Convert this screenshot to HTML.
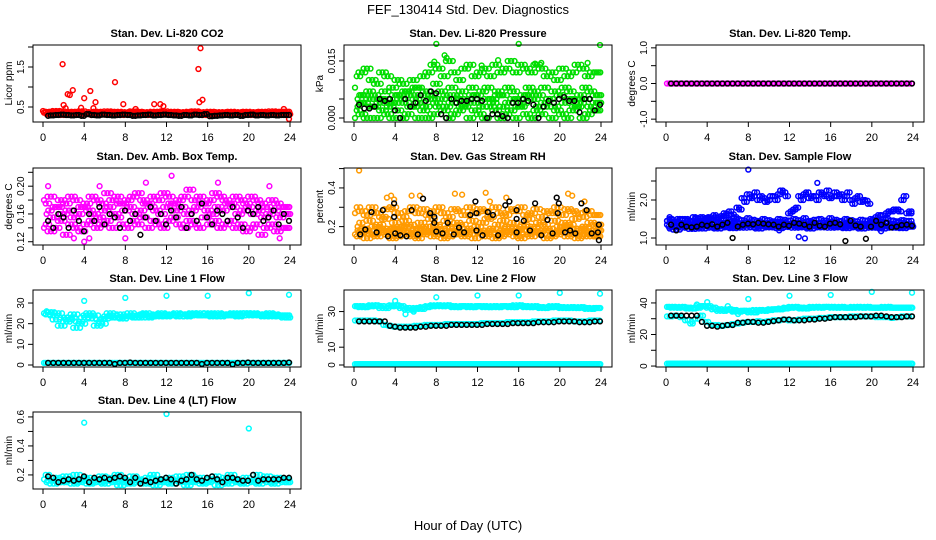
<!DOCTYPE html>
<html><head><meta charset="utf-8"><style>
html,body{margin:0;padding:0;background:#fff}
svg{display:block;font-family:"Liberation Sans",Arial,sans-serif}
</style></head><body>
<svg id="fig" width="936" height="540" viewBox="0 0 936 540" xmlns="http://www.w3.org/2000/svg">
<rect width="936" height="540" fill="#fff"/>
<text x="468" y="14" font-size="13" text-anchor="middle">FEF_130414  Std. Dev. Diagnostics</text>
<text x="468" y="530" font-size="13" text-anchor="middle">Hour of Day (UTC)</text>
</svg>
<script>
const xTicks=[0,4,8,12,16,20,24];
// CO2
const co2RedA=[0.36,0.38,0.37,0.4,0.39,0.36,0.38,0.37,0.39,0.35,0.37,0.38,0.36,0.39,0.37,0.38,0.36,0.37,0.39,0.38,0.37,0.36,0.38,0.37,0.39,0.36,0.38,0.37,0.36,0.38,0.39,0.37,0.36,0.38,0.37,0.35,0.37,0.38,0.36,0.37,0.38,0.36,0.37,0.38,0.36,0.39,0.37,0.38];
const co2RedB=[0.32,0.33,0.31,0.34,0.3,0.33,0.32,0.31,0.34,0.32,0.3,0.33,0.31,0.32,0.34,0.3,0.33,0.31,0.32,0.33,0.31,0.3,0.32,0.34,0.31,0.33,0.3,0.32,0.31,0.33,0.32,0.3,0.34,0.31,0.32,0.33,0.3,0.32,0.31,0.33,0.32,0.3,0.31,0.33,0.32,0.31,0.33,0.32];
const co2OutX=[1.9,2.4,2.6,2.9,2.0,4.0,4.6,5.1,7.0,7.8,10.8,11.4,11.7,15.1,15.3,15.2,15.5,3.7,4.9,2.2,9.0,23.4,0.0,23.9];
const co2OutY=[1.57,0.82,0.8,0.92,0.55,0.72,0.9,0.62,1.12,0.57,0.57,0.57,0.52,1.45,1.97,0.62,0.68,0.48,0.47,0.47,0.45,0.45,0.4,0.2];
const co2Black=[0.28,0.29,0.3,0.31,0.3,0.29,0.3,0.28,0.32,0.3,0.29,0.31,0.3,0.29,0.3,0.31,0.3,0.28,0.29,0.3,0.31,0.29,0.3,0.31,0.3,0.29,0.28,0.3,0.29,0.31,0.3,0.32,0.27,0.28,0.29,0.3,0.29,0.3,0.28,0.3,0.31,0.29,0.3,0.29,0.3,0.29,0.3,0.3];
// Pressure
const prA=[0.008,0.011,0.012,0.013,0.01,0.009,0.012,0.011,0.008,0.01,0.009,0.007,0.01,0.008,0.011,0.012,0.014,0.013,0.011,0.015,0.012,0.01,0.013,0.014,0.011,0.012,0.013,0.011,0.014,0.012,0.013,0.015,0.012,0.014,0.013,0.012,0.014,0.013,0.011,0.012,0.01,0.013,0.011,0.012,0.014,0.013,0.011,0.012];
const prB=[0.005,0.006,0.004,0.007,0.006,0.005,0.007,0.004,0.006,0.005,0.007,0.006,0.008,0.006,0.007,0.005,0.009,0.007,0.006,0.008,0.006,0.007,0.005,0.008,0.006,0.007,0.008,0.005,0.007,0.006,0.008,0.007,0.005,0.006,0.008,0.007,0.006,0.008,0.005,0.007,0.006,0.008,0.007,0.005,0.006,0.008,0.007,0.006];
const prC=[0.0,0.002,0.001,0.0,0.003,0.0,0.002,0.001,0.0,0.002,0.0,0.001,0.003,0.0,0.002,0.0,0.001,0.003,0.002,0.0,0.001,0.002,0.003,0.0,0.002,0.001,0.0,0.003,0.002,0.0,0.001,0.002,0.0,0.003,0.001,0.0,0.002,0.001,0.003,0.0,0.002,0.001,0.0,0.002,0.003,0.0,0.001,0.002];
const prD=[0.003,0.004,0.006,0.005,0.003,0.004,0.005,0.003,0.004,0.006,0.004,0.003,0.005,0.004,0.003,0.006,0.004,0.005,0.003,0.004,0.005,0.003,0.004,0.006,0.004,0.003,0.005,0.004,0.006,0.003,0.004,0.005,0.003,0.004,0.006,0.005,0.003,0.004,0.005,0.003,0.006,0.004,0.005,0.003,0.004,0.005,0.003,0.004];
const prOutX=[8,8.8,9,16,23.9,14,7.8,12.4,17.6,18.2,22.7];
const prOutY=[0.0195,0.0165,0.0158,0.0195,0.0192,0.0152,0.0148,0.0138,0.0143,0.0145,0.0145];
const prBlack=[0.0035,0.0025,0.0025,0.003,0.005,0.0045,0.005,0.002,0.0,0.005,0.003,0.004,0.006,0.0045,0.007,0.0065,0.001,0.0,0.005,0.004,0.0045,0.0045,0.005,0.005,0.0045,0.0,0.001,0.001,0.0005,0.0,0.004,0.004,0.005,0.0045,0.0035,0.0,0.003,0.0045,0.004,0.005,0.0055,0.0045,0.0045,0.0015,0.005,0.005,0.002,0.0035];
// Temp
const tpMag=[0,0,0,0,0,0,0,0,0,0,0,0,0,0,0,0,0,0,0,0,0,0,0,0,0,0,0,0,0,0,0,0,0,0,0,0,0,0,0,0,0,0,0,0,0,0,0,0];
const tpBlack=[0,0,0,0,0,0,0,0,0,0,0,0,0,0,0,0,0,0,0,0,0,0,0,0,0,0,0,0,0,0,0,0,0,0,0,0,0,0,0,0,0,0,0,0,0,0,0,0];
// Amb box
const abA=[0.18,0.175,0.185,0.17,0.18,0.175,0.185,0.18,0.17,0.175,0.185,0.18,0.175,0.19,0.18,0.185,0.175,0.18,0.185,0.19,0.18,0.175,0.185,0.18,0.19,0.185,0.175,0.18,0.185,0.195,0.18,0.185,0.175,0.18,0.19,0.185,0.18,0.175,0.185,0.18,0.175,0.185,0.18,0.175,0.17,0.18,0.175,0.17];
const abB=[0.16,0.165,0.155,0.17,0.16,0.165,0.155,0.16,0.17,0.165,0.16,0.155,0.165,0.17,0.16,0.175,0.165,0.17,0.16,0.165,0.175,0.17,0.165,0.16,0.17,0.175,0.165,0.17,0.16,0.165,0.17,0.175,0.165,0.16,0.17,0.165,0.175,0.17,0.16,0.165,0.17,0.16,0.165,0.155,0.16,0.165,0.155,0.16];
const abC=[0.14,0.145,0.135,0.14,0.15,0.13,0.145,0.14,0.135,0.145,0.15,0.14,0.145,0.15,0.14,0.155,0.145,0.14,0.15,0.145,0.155,0.14,0.15,0.145,0.14,0.15,0.155,0.145,0.14,0.15,0.145,0.14,0.155,0.145,0.15,0.14,0.145,0.15,0.14,0.145,0.135,0.14,0.145,0.13,0.14,0.145,0.135,0.14];
const abOutX=[4,12.5,10,0.5,3,8,17,22,23,4.5,5.5];
const abOutY=[0.12,0.215,0.205,0.2,0.125,0.125,0.205,0.2,0.125,0.125,0.2];
const abBlack=[0.15,0.14,0.16,0.155,0.14,0.165,0.15,0.135,0.16,0.15,0.17,0.145,0.16,0.155,0.14,0.165,0.15,0.16,0.13,0.155,0.17,0.15,0.16,0.145,0.165,0.155,0.17,0.14,0.16,0.15,0.175,0.155,0.145,0.165,0.16,0.15,0.17,0.155,0.14,0.165,0.16,0.17,0.15,0.155,0.165,0.145,0.16,0.15];
// RH
const rhA=[0.27,0.3,0.28,0.26,0.3,0.27,0.25,0.29,0.3,0.27,0.25,0.28,0.3,0.27,0.29,0.26,0.28,0.3,0.27,0.25,0.29,0.28,0.26,0.3,0.27,0.29,0.28,0.25,0.3,0.27,0.26,0.29,0.28,0.3,0.26,0.27,0.29,0.25,0.28,0.27,0.3,0.26,0.29,0.28,0.27,0.25,0.28,0.26];
const rhB=[0.2,0.22,0.18,0.23,0.2,0.21,0.24,0.19,0.22,0.2,0.23,0.21,0.19,0.22,0.2,0.24,0.21,0.19,0.23,0.2,0.22,0.21,0.19,0.23,0.2,0.22,0.24,0.19,0.21,0.23,0.2,0.22,0.19,0.21,0.24,0.2,0.22,0.21,0.19,0.23,0.2,0.22,0.21,0.24,0.19,0.2,0.22,0.21];
const rhC=[0.16,0.15,0.17,0.14,0.16,0.15,0.17,0.16,0.14,0.15,0.17,0.16,0.15,0.14,0.16,0.17,0.15,0.16,0.14,0.15,0.17,0.16,0.15,0.16,0.14,0.17,0.15,0.16,0.14,0.15,0.16,0.17,0.15,0.14,0.16,0.15,0.17,0.16,0.14,0.15,0.16,0.17,0.15,0.16,0.14,0.15,0.16,0.15];
const rhD=[0.18,0.17,0.19,0.18,0.16,0.19,0.18,0.17,0.19,0.18,0.2,0.17,0.18,0.19,0.17,0.18,0.2,0.18,0.17,0.19,0.18,0.17,0.19,0.18,0.2,0.17,0.18,0.19,0.17,0.18,0.19,0.18,0.17,0.2,0.18,0.19,0.17,0.18,0.19,0.17,0.18,0.2,0.19,0.17,0.18,0.19,0.17,0.18];
const rhOutX=[0.5,3.2,3.6,5.6,6.4,9.8,10.5,12.8,14.8,20.8,21.2,3.9,13.2,22.4];
const rhOutY=[0.49,0.35,0.36,0.36,0.36,0.37,0.365,0.375,0.35,0.37,0.36,0.34,0.33,0.33];
const rhBlackX=[0.6,1.1,1.7,2.2,2.8,3.3,3.9,3.9,4.0,4.5,5.1,5.6,6.2,6.7,7.4,7.8,7.8,8.0,8.6,9.1,9.7,10.2,10.7,11.3,11.8,11.9,11.9,12.5,13.0,13.5,14.0,14.7,15.1,15.8,15.8,15.8,16.5,17.1,17.6,18.2,18.8,19.3,19.7,19.9,19.8,20.5,21,21.5,22.1,22.6,23.1,23.7,23.8,23.8];
const rhBlackY=[0.16,0.185,0.275,0.17,0.285,0.15,0.32,0.25,0.165,0.155,0.15,0.285,0.16,0.345,0.27,0.25,0.22,0.175,0.165,0.22,0.16,0.195,0.17,0.26,0.33,0.27,0.18,0.155,0.275,0.26,0.155,0.31,0.33,0.285,0.24,0.17,0.23,0.18,0.32,0.155,0.235,0.165,0.35,0.32,0.27,0.17,0.18,0.165,0.32,0.285,0.165,0.17,0.21,0.13];
// Sample flow
const sfLowA=[1.35,1.3,1.4,1.32,1.38,1.3,1.36,1.42,1.34,1.38,1.3,1.4,1.36,1.42,1.38,1.34,1.4,1.36,1.44,1.38,1.35,1.4,1.37,1.42,1.38,1.35,1.4,1.36,1.42,1.38,1.34,1.4,1.36,1.42,1.38,1.35,1.4,1.37,1.34,1.38,1.35,1.4,1.36,1.33,1.38,1.35,1.4,1.36];
const sfLowB=[1.25,1.28,1.22,1.27,1.3,1.24,1.28,1.25,1.3,1.27,1.25,1.3,1.28,1.26,1.3,1.27,1.32,1.28,1.25,1.3,1.28,1.3,1.26,1.29,1.32,1.27,1.3,1.28,1.25,1.3,1.28,1.32,1.27,1.3,1.28,1.26,1.3,1.28,1.25,1.3,1.27,1.28,1.25,1.3,1.27,1.28,1.26,1.3];
const sfLowC=[1.45,1.48,1.44,1.5,1.46,1.43,1.5,1.45,1.52,1.47,1.44,1.5,1.48,1.45,1.5,1.47,1.52,1.48,1.45,1.5,1.47,1.44,1.5,1.48,1.46,1.5,1.47,1.52,1.45,1.48,1.5,1.46,1.52,1.48,1.45,1.5,1.47,1.44,1.48,1.46,1.42,1.47,1.44,1.5,1.46,1.44,1.47,1.45];
const sfUpA=[1.45,1.5,1.42,1.48,1.5,1.45,1.52,1.55,1.48,1.5,1.55,1.58,1.6,1.62,1.8,2.05,2.15,2.1,2.0,2.05,2.0,2.1,2.15,2.2,1.65,1.75,2.1,2.15,2.05,2.1,2.2,2.1,2.05,2.2,2.15,2.1,2.0,2.05,1.95,1.98,1.5,1.55,1.6,1.65,1.7,1.75,2.0,1.65];
const sfUpB=[1.55,1.4,1.5,1.38,1.45,1.55,1.45,1.5,1.55,1.6,1.5,1.65,1.7,1.55,1.75,1.95,2.05,2.2,2.1,1.95,2.1,2.0,2.25,2.1,1.7,1.8,2.0,2.2,2.1,2.0,2.15,2.25,2.1,2.1,2.0,2.2,1.9,2.1,2.0,1.9,1.45,1.6,1.5,1.7,1.75,1.7,2.1,1.7];
const sfOutX=[8,14.7,12.9,13.5,20.9,11];
const sfOutY=[2.8,2.45,1.03,0.99,1.18,1.2];
const sfBlack=[1.35,1.2,1.35,1.3,1.28,1.3,1.35,1.32,1.36,1.3,1.35,1.4,1.0,1.3,1.35,1.38,1.36,1.4,1.38,1.36,1.35,1.3,1.35,1.32,1.4,1.38,1.35,1.3,1.4,1.32,1.3,1.38,1.4,1.36,0.92,1.45,1.33,1.3,0.98,1.3,1.45,1.35,1.4,1.28,1.3,1.34,1.35,1.32];
// Line 1
const l1UpA=[25,24.5,25.5,22,19,21,23,18,20,24,22.5,19,20,23.5,24,23,22.5,23.5,24,23,24.5,23,24,23.5,24,24.5,24,23.5,24.5,24,24.5,25,24,24.5,24,23.5,24.5,24,24.5,24,25,24.5,24,24.5,24,23.5,24,24];
const l1UpB=[26,25.5,24,25,23,22,24.5,21,23,25,24,22,22.5,25,23,24.5,23.5,25,23,24,25,23.5,24.5,25,23.5,24,25,24.5,23.5,25,24,24,25,23.5,25,24.5,24,25,23.5,25,24,25,24.5,23.5,25,24.5,23.5,23];
const l1Low=[1,1,1,1,1,1,1,1,1,1,1,1,1,1,1,1,1,1,1,1,1,1,1,1,1,1,1,1,1,1,1,1,1,1,1,1,1,1,1,1,1,1,1,1,1,1,1,1];
const l1Black=[1,1,1,1,1,1,1,1,1,1,1,1,1,0.5,1,1,1.2,1,1,1,1,1,1,1,1,1,1,1,1,1,0.5,1,1,1,1,1,0.3,1,1,1.2,1,1,1,1,1,1,1,1.2];
const l1OutX=[4,8,12,16,20,23.9];
const l1OutY=[31,32.5,33.5,33.5,34.8,34];
// Line 2
const l2Up=[33,33,32.5,33,33.5,33,32,33,33.5,33,32,31,32,31.5,32.5,33,33.5,33,33.5,33,32.5,33,33,32.5,33,33,32.5,33,32.5,33,33,32.5,33.5,33,32.5,33,32.5,32,32.5,33,32.5,32,32.5,32,32.5,32,31.5,32];
const l2Mid=[25,25,25,25,25,24.5,22.5,22,21.5,21.5,21.5,21.5,22,22,22.5,22.5,22.5,22.5,23,23,23,23,23,23,23,23.5,23.5,23.5,23.5,23.5,24,24,24,24,24,24.5,24.5,24.5,24.5,25,25,25,25,24.5,24.5,24.5,25,25];
const l2Black=[24.5,24.5,24.5,24.5,24.5,24.5,22,21.5,21,21,21,21,21.5,21.5,22,22,22,22,22.5,22.5,22.5,22.5,22.5,22.5,22.5,23,23,23,23,23,23.5,23.5,23.5,23.5,23.5,24,24,24,24,24.5,24.5,24.5,24.5,24,24,24,24.5,24.5];
const l2Low=[0.5,0.5,0.5,0.5,0.5,0.5,0.5,0.5,0.5,0.5,0.5,0.5,0.5,0.5,0.5,0.5,0.5,0.5,0.5,0.5,0.5,0.5,0.5,0.5,0.5,0.5,0.5,0.5,0.5,0.5,0.5,0.5,0.5,0.5,0.5,0.5,0.5,0.5,0.5,0.5,0.5,0.5,0.5,0.5,0.5,0.5,0.5,0.5];
const l2OutX=[4,5,5.8,8,12,16,20,23.9];
const l2OutY=[36,28.5,30,38,39,39,40.5,40];
// Line 3
const l3Up=[37.5,37.5,37,37.5,37,36.5,37,38,38,37,36,35,36,35.5,34.5,35,35,34,35.5,35,35.5,36,36,36.5,37,37.5,37,36.5,37,37.5,37,37.5,37.5,37,37.5,37,37,37.5,37,37.5,37,37,37,37.5,37,37,37,37];
const l3Mid=[31.5,31.5,32,31,29,27,30,32,28,26,26,25.5,26,26.5,27,27.5,28,28,28.5,28,28.5,29,29,29.5,29,29,29.5,30,30,30,30.5,30.5,31,31,31,31,31.5,31.5,31.5,31.5,31.5,31,31,31,30.5,31,31.5,31.5];
const l3Black=[32,32,32,32,32,32,28,25.5,25.5,25,25.5,26,26,27.5,27.5,28,28,27.5,27.5,28,28.5,29,29.5,29.5,29,29,29,29.5,29.5,30,30,30.5,31,31,31,31,31,31.5,31.5,31.5,32,32,31.5,31,31,31,31.5,31.5];
const l3Low=[1.5,1.5,1.5,1.5,1.5,1.5,1.5,1.5,1.5,1.5,1.5,1.5,1.5,1.5,1.5,1.5,1.5,1.5,1.5,1.5,1.5,1.5,1.5,1.5,1.5,1.5,1.5,1.5,1.5,1.5,1.5,1.5,1.5,1.5,1.5,1.5,1.5,1.5,1.5,1.5,1.5,1.5,1.5,1.5,1.5,1.5,1.5,1.5];
const l3OutX=[4,8,12,16,20,23.9,6,6.5,7,2.5,3];
const l3OutY=[40.5,42.5,44.5,45,47,46.5,38,35,33,28,39];
// Line 4
const l4A=[0.17,0.2,0.16,0.18,0.15,0.19,0.17,0.2,0.16,0.18,0.15,0.17,0.19,0.16,0.18,0.2,0.17,0.15,0.19,0.17,0.16,0.18,0.2,0.17,0.15,0.18,0.16,0.19,0.17,0.2,0.16,0.18,0.15,0.17,0.19,0.16,0.18,0.2,0.17,0.15,0.18,0.16,0.2,0.17,0.19,0.16,0.18,0.17];
const l4B=[0.15,0.16,0.14,0.17,0.15,0.16,0.14,0.15,0.17,0.14,0.16,0.15,0.14,0.16,0.15,0.13,0.16,0.14,0.15,0.16,0.14,0.15,0.13,0.16,0.15,0.14,0.16,0.15,0.13,0.15,0.16,0.14,0.15,0.16,0.13,0.15,0.14,0.16,0.15,0.14,0.16,0.15,0.14,0.16,0.15,0.14,0.16,0.15];
const l4Black=[0.19,0.18,0.15,0.16,0.17,0.16,0.17,0.19,0.15,0.18,0.17,0.18,0.17,0.18,0.19,0.18,0.15,0.18,0.14,0.16,0.15,0.16,0.17,0.18,0.17,0.14,0.16,0.17,0.2,0.17,0.16,0.18,0.19,0.17,0.15,0.18,0.18,0.17,0.16,0.16,0.2,0.16,0.17,0.17,0.17,0.17,0.18,0.18];
const l4OutX=[4,12,20];
const l4OutY=[0.56,0.62,0.52];

const svg=document.getElementById('fig');
const NS='http://www.w3.org/2000/svg';
function mk(tag,attrs,parent){const e=document.createElementNS(NS,tag);for(const k in attrs)e.setAttribute(k,attrs[k]);(parent||svg).appendChild(e);return e;}
function hours(n,a,b){const r=[];for(let i=0;i<n;i++)r.push(a+i*(b-a)/(n-1));return r;}
const colLeft=[33,344,656],rowTop=[45,168,290,412],BW=268,BH=77;
const RED='#ff0000',GRN='#00dd00',MAG='#ff00ff',ORG='#ff9a00',BLU='#0000ff',CYA='#00ffff',BLK='#000000';

function panel(name,col,row,title,ylab,ymin,ymax,yTicks,yLabels,series,yfs){
  const g=mk('g',{});
  
  
  const L=colLeft[col],T=rowTop[row],B=T+BH;
  const xs=h=>L+10+h*247/24;
  const ys=v=>B-(v-ymin)/(ymax-ymin)*BH;
  const t=mk('text',{x:L+BW/2,y:T-8,'font-size':11,'font-weight':'bold','text-anchor':'middle'},g);
  t.textContent=title;
  
  
  const plot=mk('g',{},g);
  
  
  series.forEach(s=>{
    const rep=s.rep||1, n=s.y.length;
    for(let k=0;k<rep;k++){
      for(let i=0;i<n;i++){
        const j=Math.min(i+k,n-1);
        const h=s.x[i]+k*(0.5/rep);
        if(h>24.05) continue;
        const c=mk('circle',{cx:xs(h).toFixed(1),cy:ys(s.y[j]).toFixed(1),r:2.4,fill:'none',stroke:s.c,'stroke-width':1.5},plot);
        
        
      }
    }
  });
  const box=mk('rect',{x:L,y:T,width:BW,height:BH,fill:'none',stroke:'#000','stroke-width':1},g);
  
  
  const xa=mk('g',{},g);
  
  
  xTicks.forEach(h=>{
    mk('line',{x1:xs(h),x2:xs(h),y1:B,y2:B+5,stroke:'#000'},xa);
    const tx=mk('text',{x:xs(h),y:B+19,'font-size':11,'text-anchor':'middle'},xa);
    tx.textContent=h;
  });
  const ya=mk('g',{},g);
  
  
  yTicks.forEach((v,i)=>{
    const y=ys(v);
    mk('line',{x1:L,x2:L-5,y1:y,y2:y,stroke:'#000'},ya);
    if(yLabels[i]){const tx=mk('text',{x:0,y:0,'font-size':yfs||10,'text-anchor':'middle',transform:`translate(${L-9},${y}) rotate(-90)`},ya);tx.textContent=yLabels[i];}
  });
  const yl=mk('text',{x:0,y:0,'font-size':10,'text-anchor':'middle',transform:`translate(${L-21},${T+BH/2}) rotate(-90)`},g);
  yl.textContent=ylab;
  
  
}
const tc=hours(48,0.1,23.6), tb=hours(48,0.5,23.9), tc2=hours(48,0.35,23.85);

panel('co2-panel',0,0,'Stan. Dev. Li-820 CO2','Licor ppm',0.125,2.05,[0.5,1.0,1.5,2.0],['0.5','','1.5',''],[
 {x:tc,y:co2RedA,c:RED,rep:3},{x:tc2,y:co2RedB,c:RED,rep:3},{x:co2OutX,y:co2OutY,c:RED},{x:tb,y:co2Black,c:BLK,rep:2}]);
panel('pressure-panel',1,0,'Stan. Dev. Li-820 Pressure','kPa',-0.00105,0.0192,[0,0.005,0.01,0.015],['0.000','','','0.015'],[
 {x:tc,y:prA,c:GRN,rep:3},{x:tc2,y:prB,c:GRN,rep:3},{x:tc,y:prC,c:GRN,rep:3},{x:tc2,y:prD,c:GRN,rep:3},{x:prOutX,y:prOutY,c:GRN},{x:tb,y:prBlack,c:BLK}]);
panel('temp-panel',2,0,'Stan. Dev. Li-820 Temp.','degrees C',-1.08,1.08,[-1,-0.5,0,0.5,1],['-1.0','','0.0','','1.0'],[
 {x:tc,y:tpMag,c:MAG,rep:2},{x:tc2,y:tpMag,c:MAG,rep:2},{x:tb,y:tpBlack,c:BLK}]);
panel('amb-box-panel',0,1,'Stan. Dev. Amb. Box Temp.','degrees C',0.1153,0.2262,[0.12,0.14,0.16,0.18,0.2,0.22],['0.12','','0.16','','0.20',''],[
 {x:tc,y:abA,c:MAG,rep:3},{x:tc2,y:abB,c:MAG,rep:3},{x:tc,y:abC,c:MAG,rep:3},{x:abOutX,y:abOutY,c:MAG},{x:tb,y:abBlack,c:BLK}]);
panel('rh-panel',1,1,'Stan. Dev. Gas Stream RH','percent',0.105,0.503,[0.2,0.3,0.4,0.5],['0.2','','0.4',''],[
 {x:tc,y:rhA,c:ORG,rep:3},{x:tc2,y:rhB,c:ORG,rep:3},{x:tc,y:rhC,c:ORG,rep:3},{x:tc2,y:rhD,c:ORG,rep:3},{x:rhOutX,y:rhOutY,c:ORG},{x:rhBlackX,y:rhBlackY,c:BLK}]);
panel('sample-flow-panel',2,1,'Stan. Dev. Sample Flow','ml/min',0.816,2.842,[1.0,1.5,2.0,2.5],['1.0','','2.0',''],[
 {x:tc,y:sfLowA,c:BLU,rep:3},{x:tc2,y:sfLowB,c:BLU,rep:3},{x:tc,y:sfLowC,c:BLU,rep:2},{x:tc,y:sfUpA,c:BLU,rep:2},{x:tc2,y:sfUpB,c:BLU,rep:2},{x:sfOutX,y:sfOutY,c:BLU},{x:tb,y:sfBlack,c:BLK}]);
panel('line1-panel',0,2,'Stan. Dev. Line 1 Flow','ml/min',-0.97,36.3,[0,10,20,30],['0','10','20','30'],[
 {x:tc,y:l1UpA,c:CYA,rep:3},{x:tc2,y:l1UpB,c:CYA,rep:3},{x:tc,y:l1Low,c:CYA,rep:3},{x:l1OutX,y:l1OutY,c:CYA},{x:tb,y:l1Black,c:BLK}]);
panel('line2-panel',1,2,'Stan. Dev. Line 2 Flow','ml/min',-1.12,42.1,[0,10,20,30],['0','10','','30'],[
 {x:tc,y:l2Up,c:CYA,rep:3},{x:tc2,y:l2Up,c:CYA,rep:2},{x:tc,y:l2Mid,c:CYA,rep:2},{x:tc,y:l2Low,c:CYA,rep:3},{x:tc2,y:l2Low,c:CYA,rep:2},{x:l2OutX,y:l2OutY,c:CYA},{x:tb,y:l2Black,c:BLK}]);
panel('line3-panel',2,2,'Stan. Dev. Line 3 Flow','ml/min',-0.6,48.2,[0,10,20,30,40],['0','','20','','40'],[
 {x:tc,y:l3Up,c:CYA,rep:3},{x:tc2,y:l3Up,c:CYA,rep:2},{x:tc,y:l3Mid,c:CYA,rep:2},{x:tc,y:l3Low,c:CYA,rep:3},{x:tc2,y:l3Low,c:CYA,rep:2},{x:l3OutX,y:l3OutY,c:CYA},{x:tb,y:l3Black,c:BLK}]);
panel('line4-panel',0,3,'Stan. Dev. Line 4 (LT) Flow','ml/min',0.103,0.634,[0.2,0.3,0.4,0.5,0.6],['0.2','','0.4','','0.6'],[
 {x:tc,y:l4A,c:CYA,rep:3},{x:tc2,y:l4B,c:CYA,rep:3},{x:l4OutX,y:l4OutY,c:CYA},{x:tb,y:l4Black,c:BLK}]);
</script>
</body></html>
